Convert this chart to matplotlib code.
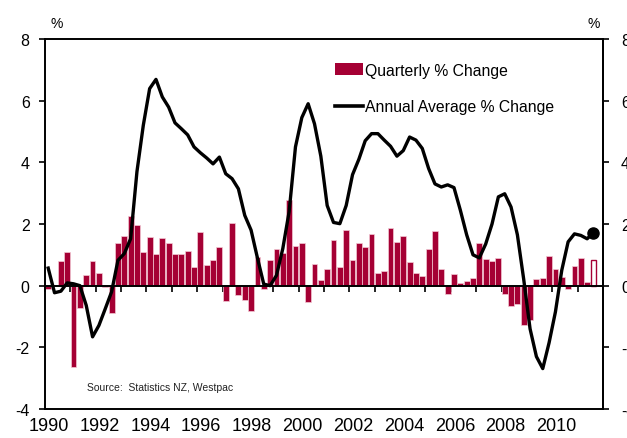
import pandas as pd
import matplotlib.pyplot as plt
import matplotlib.transforms as mtransforms
from matplotlib.patches import Patch
from matplotlib.lines import Line2D

plt.rcParams['font.family'] = ['Liberation Sans', 'DejaVu Sans']
plt.rcParams['axes.unicode_minus'] = False

BAR_COLOR = '#A50034'

# quarters 1990Q1 .. 2011Q3 (last one is shown as an outline only)
quarters = pd.period_range('1990Q1', '2011Q3', freq='Q')

quarterly_change = [
    -0.10, 0.02, 0.80, 1.10, -2.64, -0.72, 0.33, 0.79, 0.40, -0.05,
    -0.89, 1.38, 1.62, 2.27, 1.98, 1.08, 1.58, 1.03, 1.55, 1.38,
    1.02, 1.02, 1.11, 0.61, 1.74, 0.67, 0.82, 1.24, -0.49, 2.02,
    -0.31, -0.45, -0.82, 0.93, -0.12, 0.84, 1.19, 1.06, 2.79, 1.30,
    1.37, -0.54, 0.70, 0.19, 0.54, 1.47, 0.62, 1.81, 0.84, 1.39,
    1.25, 1.68, 0.41, 0.48, 1.87, 1.42, 1.60, 0.76, 0.40, 0.31,
    1.19, 1.77, 0.55, -0.26, 0.37, 0.09, 0.15, 0.25, 1.38, 0.88,
    0.81, 0.90, -0.27, -0.65, -0.58, -1.26, -1.12, 0.22, 0.26, 0.95,
    0.55, 0.28, -0.12, 0.65, 0.90, 0.13, 0.84,
]

annual_avg_change = [
    0.57, -0.23, -0.18, 0.09, 0.06, 0.00, -0.64, -1.66, -1.29, -0.75,
    -0.20, 0.82, 1.04, 1.52, 3.70, 5.20, 6.39, 6.69, 6.12, 5.79,
    5.28, 5.09, 4.89, 4.50, 4.31, 4.14, 3.95, 4.17, 3.63, 3.47,
    3.14, 2.28, 1.80, 0.90, 0.05, 0.00, 0.33, 1.20, 2.40, 4.50,
    5.45, 5.90, 5.25, 4.20, 2.60, 2.05, 2.01, 2.60, 3.60, 4.10,
    4.70, 4.93, 4.93, 4.72, 4.52, 4.20, 4.38, 4.82, 4.72, 4.45,
    3.80, 3.30, 3.20, 3.27, 3.18, 2.45, 1.65, 1.00, 0.90, 1.35,
    2.00, 2.88, 2.98, 2.55, 1.65, 0.20, -1.40, -2.30, -2.69, -1.85,
    -0.85, 0.50, 1.42, 1.68, 1.63, 1.52, 1.72,
]

year_labels = list(range(1990, 2011, 2))
y_ticks = [-4, -2, 0, 2, 4, 6, 8]

# centre of each quarter in decimal years
x = [q.year + (q.quarter - 1) / 4 + 0.125 for q in quarters]

fig, ax = plt.subplots(figsize=(6.27, 4.39), dpi=100)
fig.subplots_adjust(left=0.0718, right=0.9617, top=0.9089, bottom=0.0661)

ax.bar(x[:-1], quarterly_change[:-1], width=0.23, color=BAR_COLOR,
       edgecolor='#F3C9D4', linewidth=0.5, zorder=2)
ax.bar(x[-1:], quarterly_change[-1:], width=0.2, color='white',
       edgecolor=BAR_COLOR, linewidth=1.0, zorder=2)

ax.plot(x, annual_avg_change, color='black', linewidth=2.4, zorder=3,
        solid_joinstyle='round')
ax.plot(x[-1], annual_avg_change[-1], 'o', color='black', markersize=8, zorder=4)

ax.set_xlim(1990, 2012)
ax.set_ylim(-4, 8)
ax.set_yticks(y_ticks)
ax.tick_params(axis='y', direction='out', length=4, width=1.2, pad=7, labelsize=11.5)

# zero line carries the yearly tick marks
ax.spines['bottom'].set_position(('data', 0))
ax.set_xticks(range(1990, 2012))
ax.tick_params(axis='x', direction='out', length=4, width=1.2, labelbottom=False)
for side in ['left', 'right', 'top', 'bottom']:
    ax.spines[side].set_linewidth(1.4)

# bottom frame with the year labels
secax = ax.secondary_xaxis('bottom')
secax.set_xticks(year_labels)
secax.set_xticklabels([str(y) for y in year_labels])
secax.tick_params(axis='x', length=0, pad=6, labelsize=13)
secax.spines['bottom'].set_linewidth(1.4)
offset = mtransforms.ScaledTranslation(0.04, 0, fig.dpi_scale_trans)
for lbl in secax.get_xticklabels():
    lbl.set_transform(lbl.get_transform() + offset)

ax2 = ax.twinx()
ax2.set_ylim(-4, 8)
ax2.set_yticks(y_ticks)
ax2.tick_params(axis='y', direction='out', length=4, width=1.2, pad=9, labelsize=11.5)
for side in ['left', 'top', 'bottom']:
    ax2.spines[side].set_visible(False)
ax2.spines['right'].set_linewidth(1.4)

handles = [Patch(facecolor=BAR_COLOR, edgecolor='none'),
           Line2D([], [], color='black', linewidth=2.6)]
ax.legend(handles, ['Quarterly % Change', 'Annual Average % Change'],
          loc='upper left', bbox_to_anchor=(0.52, 0.936), frameon=False,
          fontsize=11.3, handlelength=1.8, handleheight=0.75,
          handletextpad=0.12, labelspacing=1.37, borderpad=0, borderaxespad=0)

ax.text(0.075, 0.059, 'Source:  Statistics NZ, Westpac', transform=ax.transAxes,
        fontsize=7.5, va='center', ha='left', color='#222222')

fig.text(57 / 627, 1 - 24 / 439, '%', fontsize=10, ha='center', va='center')
fig.text(594 / 627, 1 - 24 / 439, '%', fontsize=10, ha='center', va='center')

plt.savefig('out.png', dpi=100)
